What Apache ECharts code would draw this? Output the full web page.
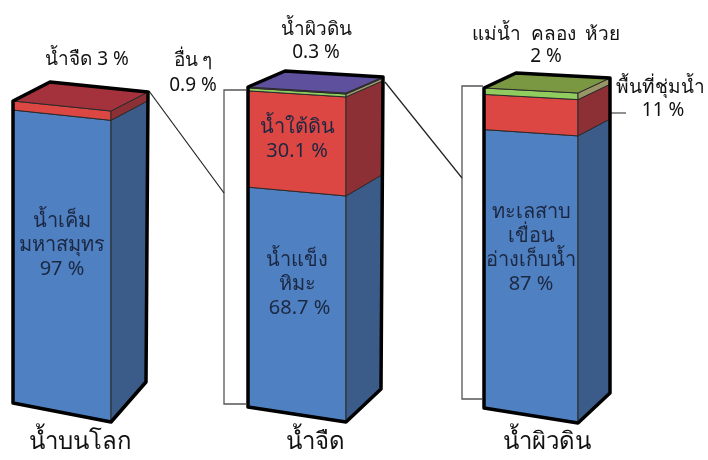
<!DOCTYPE html>
<html>
<head>
<meta charset="utf-8">
<script src="https://cdn.jsdelivr.net/npm/echarts@6/dist/echarts.min.js"></script>
<style>
  html, body { margin: 0; padding: 0; background: #ffffff; }
  #chart { width: 708px; height: 460px; }
</style>
</head>
<body>
<div id="chart"></div>
<script>
// Water on Earth, broken down in three stacked 3-D columns (percent)
const categories = ['น้ำบนโลก', 'น้ำจืด', 'น้ำผิวดิน'];

// bottom → top
const earthValues   = [97, 3];
const freshValues   = [68.7, 30.1, 0.9, 0.3];
const surfaceValues = [87, 11, 2];

const earthKinds   = ['blue', 'red'];
const freshKinds   = ['blue', 'red', 'green', 'purple'];
const surfaceKinds = ['blue', 'red', 'green'];

const earthLabels   = [['น้ำเค็ม', 'มหาสมุทร', '97 %'], null];
const freshLabels   = [['น้ำแข็ง', 'หิมะ', ' 68.7 %'], ['น้ำใต้ดิน', '30.1 %'], null, null];
const surfaceLabels = [['ทะเลสาบ', 'เขื่อน', 'อ่างเก็บน้ำ', '87 %'], null, null];

const FONT = '"Noto Sans", "DejaVu Sans", sans-serif';

const palette = {
  blue:   { front: '#4f81c2', side: '#3b5c88', top: '#4a76ad' },
  red:    { front: '#dc4643', side: '#8c3035', top: '#a3323c' },
  green:  { front: '#90cc5e', side: '#9a9566', top: '#7a9841' },
  purple: { front: '#6a58a8', side: '#4a3e7a', top: '#5e509c' }
};

// box placement and the oblique projection of each column
const boxes = [
  { left: 13,  top: 101, width: 135, height: 302, sTop: 10, sBot: 19, dTop: [37, -19], dBot: [35, -40], labelShift: [-11, 0], labelMargin: 27 },
  { left: 248, top: 87,  width: 135, height: 320, sTop: 6,  sBot: 15, dTop: [37, -16], dBot: [35, -33], labelShift: [-13, 0, 0, 0], labelMargin: 23 },
  { left: 484, top: 88,  width: 126, height: 320, sTop: 5,  sBot: 15, dTop: [32, -15], dBot: [32, -30], labelShift: [-21, 0, 0], labelMargin: 22 }
];

const columns = [
  { values: earthValues,   kinds: earthKinds,   labels: earthLabels },
  { values: freshValues,   kinds: freshKinds,   labels: freshLabels },
  { values: surfaceValues, kinds: surfaceKinds, labels: surfaceLabels }
];

function lerp(a, b, t) { return a + (b - a) * t; }

function makeRender(ci) {
  const box = boxes[ci];
  const col = columns[ci];
  return function (params, api) {
    const idx = params.dataIndex;
    const lo = api.value(1), hi = api.value(2);
    const total = col.values.reduce((a, b) => a + b, 0);
    const band = api.size([1, 0])[0];
    const cx = api.coord([0, 0])[0];
    const L = cx - band / 2;
    const R = L + band - box.dTop[0];
    const yTop = api.coord([0, total])[1];
    const yBot = api.coord([0, 0])[1];

    function P(v) {
      const yl = api.coord([0, v])[1];
      const t = (yl - yTop) / (yBot - yTop);
      const s = lerp(box.sTop, box.sBot, t);
      return { yl: yl, yr: yl + s, dx: lerp(box.dTop[0], box.dBot[0], t), dy: lerp(box.dTop[1], box.dBot[1], t) };
    }

    const a = P(lo), b = P(hi);
    const c = palette[col.kinds[idx]];
    const thin = { stroke: '#2a2a2a', lineWidth: 1 };
    const children = [];

    children.push({
      type: 'polygon',
      shape: { points: [[L, a.yl], [L, b.yl], [R, b.yr], [R, a.yr]] },
      style: Object.assign({ fill: c.front }, thin)
    });
    children.push({
      type: 'polygon',
      shape: { points: [[R, a.yr], [R, b.yr], [R + b.dx, b.yr + b.dy], [R + a.dx, a.yr + a.dy]] },
      style: Object.assign({ fill: c.side }, thin)
    });

    const lab = col.labels[idx];
    if (lab) {
      const midY = (a.yl + b.yl) / 2 + (box.labelShift[idx] || 0);
      children.push({
        type: 'text',
        style: {
          text: lab.join('\n'),
          x: (L + R) / 2, y: midY,
          align: 'center', verticalAlign: 'middle',
          font: '20px ' + FONT, lineHeight: 24,
          fill: '#1c2742'
        }
      });
    }

    if (idx === col.values.length - 1) {
      const t = P(total), z = P(0);
      children.push({
        type: 'polygon',
        shape: { points: [[L, t.yl], [R, t.yr], [R + t.dx, t.yr + t.dy], [L + t.dx, t.yl + t.dy]] },
        style: Object.assign({ fill: c.top }, thin)
      });
      // heavy silhouette around the whole column
      children.push({
        type: 'polygon',
        shape: { points: [
          [L, z.yl], [R, z.yr], [R + z.dx, z.yr + z.dy],
          [R + t.dx, t.yr + t.dy], [L + t.dx, t.yl + t.dy], [L, t.yl]
        ] },
        style: { fill: null, stroke: '#000000', lineWidth: 3.5, lineJoin: 'round' }
      });
    }
    return { type: 'group', children: children };
  };
}

const grids = boxes.map(b => ({ left: b.left, top: b.top, width: b.width, height: b.height }));
const xAxes = boxes.map((b, i) => ({
  type: 'category', gridIndex: i, data: [categories[i]],
  axisLine: { show: false }, axisTick: { show: false },
  axisLabel: { margin: b.labelMargin, fontSize: 24, color: '#111111', fontFamily: FONT }
}));
const yAxes = columns.map((c, i) => ({
  type: 'value', gridIndex: i, min: 0, max: c.values.reduce((a, b) => a + b, 0),
  show: false, splitLine: { show: false }
}));
const series = columns.map((c, i) => {
  let acc = 0;
  const data = c.values.map(v => { const d = [0, acc, acc + v]; acc += v; return d; });
  return {
    type: 'custom', xAxisIndex: i, yAxisIndex: i,
    renderItem: makeRender(i), data: data, silent: true, animation: false
  };
});

const gray = { stroke: '#555555', lineWidth: 1.3, fill: null };
const dark = { stroke: '#222222', lineWidth: 1.2, fill: null };
const outerText = (x, y, text) => ({
  type: 'text', x: x, y: y,
  style: { text: text, align: 'center', verticalAlign: 'middle', font: '19px ' + FONT, fill: '#111111', lineHeight: 23 }
});

const chart = echarts.init(document.getElementById('chart'), null, { renderer: 'canvas' });
chart.setOption({
  animation: false,
  backgroundColor: '#ffffff',
  grid: grids, xAxis: xAxes, yAxis: yAxes, series: series,
  graphic: [
    { type: 'polyline', shape: { points: [[246, 90], [224, 90], [224, 404], [246, 404]] }, style: gray },
    { type: 'line', shape: { x1: 149, y1: 91, x2: 224, y2: 193 }, style: dark },
    { type: 'polyline', shape: { points: [[483, 86], [462, 86], [462, 399], [482, 399]] }, style: gray },
    { type: 'line', shape: { x1: 385, y1: 82, x2: 462, y2: 178 }, style: dark },
    { type: 'line', shape: { x1: 610, y1: 113, x2: 626, y2: 113 }, style: gray },
    outerText(87, 60, 'น้ำจืด 3 %'),
    outerText(193, 61, 'อื่น ๆ'),
    outerText(193, 86, '0.9 %'),
    outerText(316, 30, 'น้ำผิวดิน'),
    outerText(316, 53, '0.3 %'),
    outerText(546, 35, 'แม่น้ำ  คลอง  ห้วย'),
    outerText(546, 57, '2 %'),
    outerText(660, 88, 'พื้นที่ชุ่มน้ำ'),
    outerText(663, 111, '11 %')
  ]
});
</script>
</body>
</html>
